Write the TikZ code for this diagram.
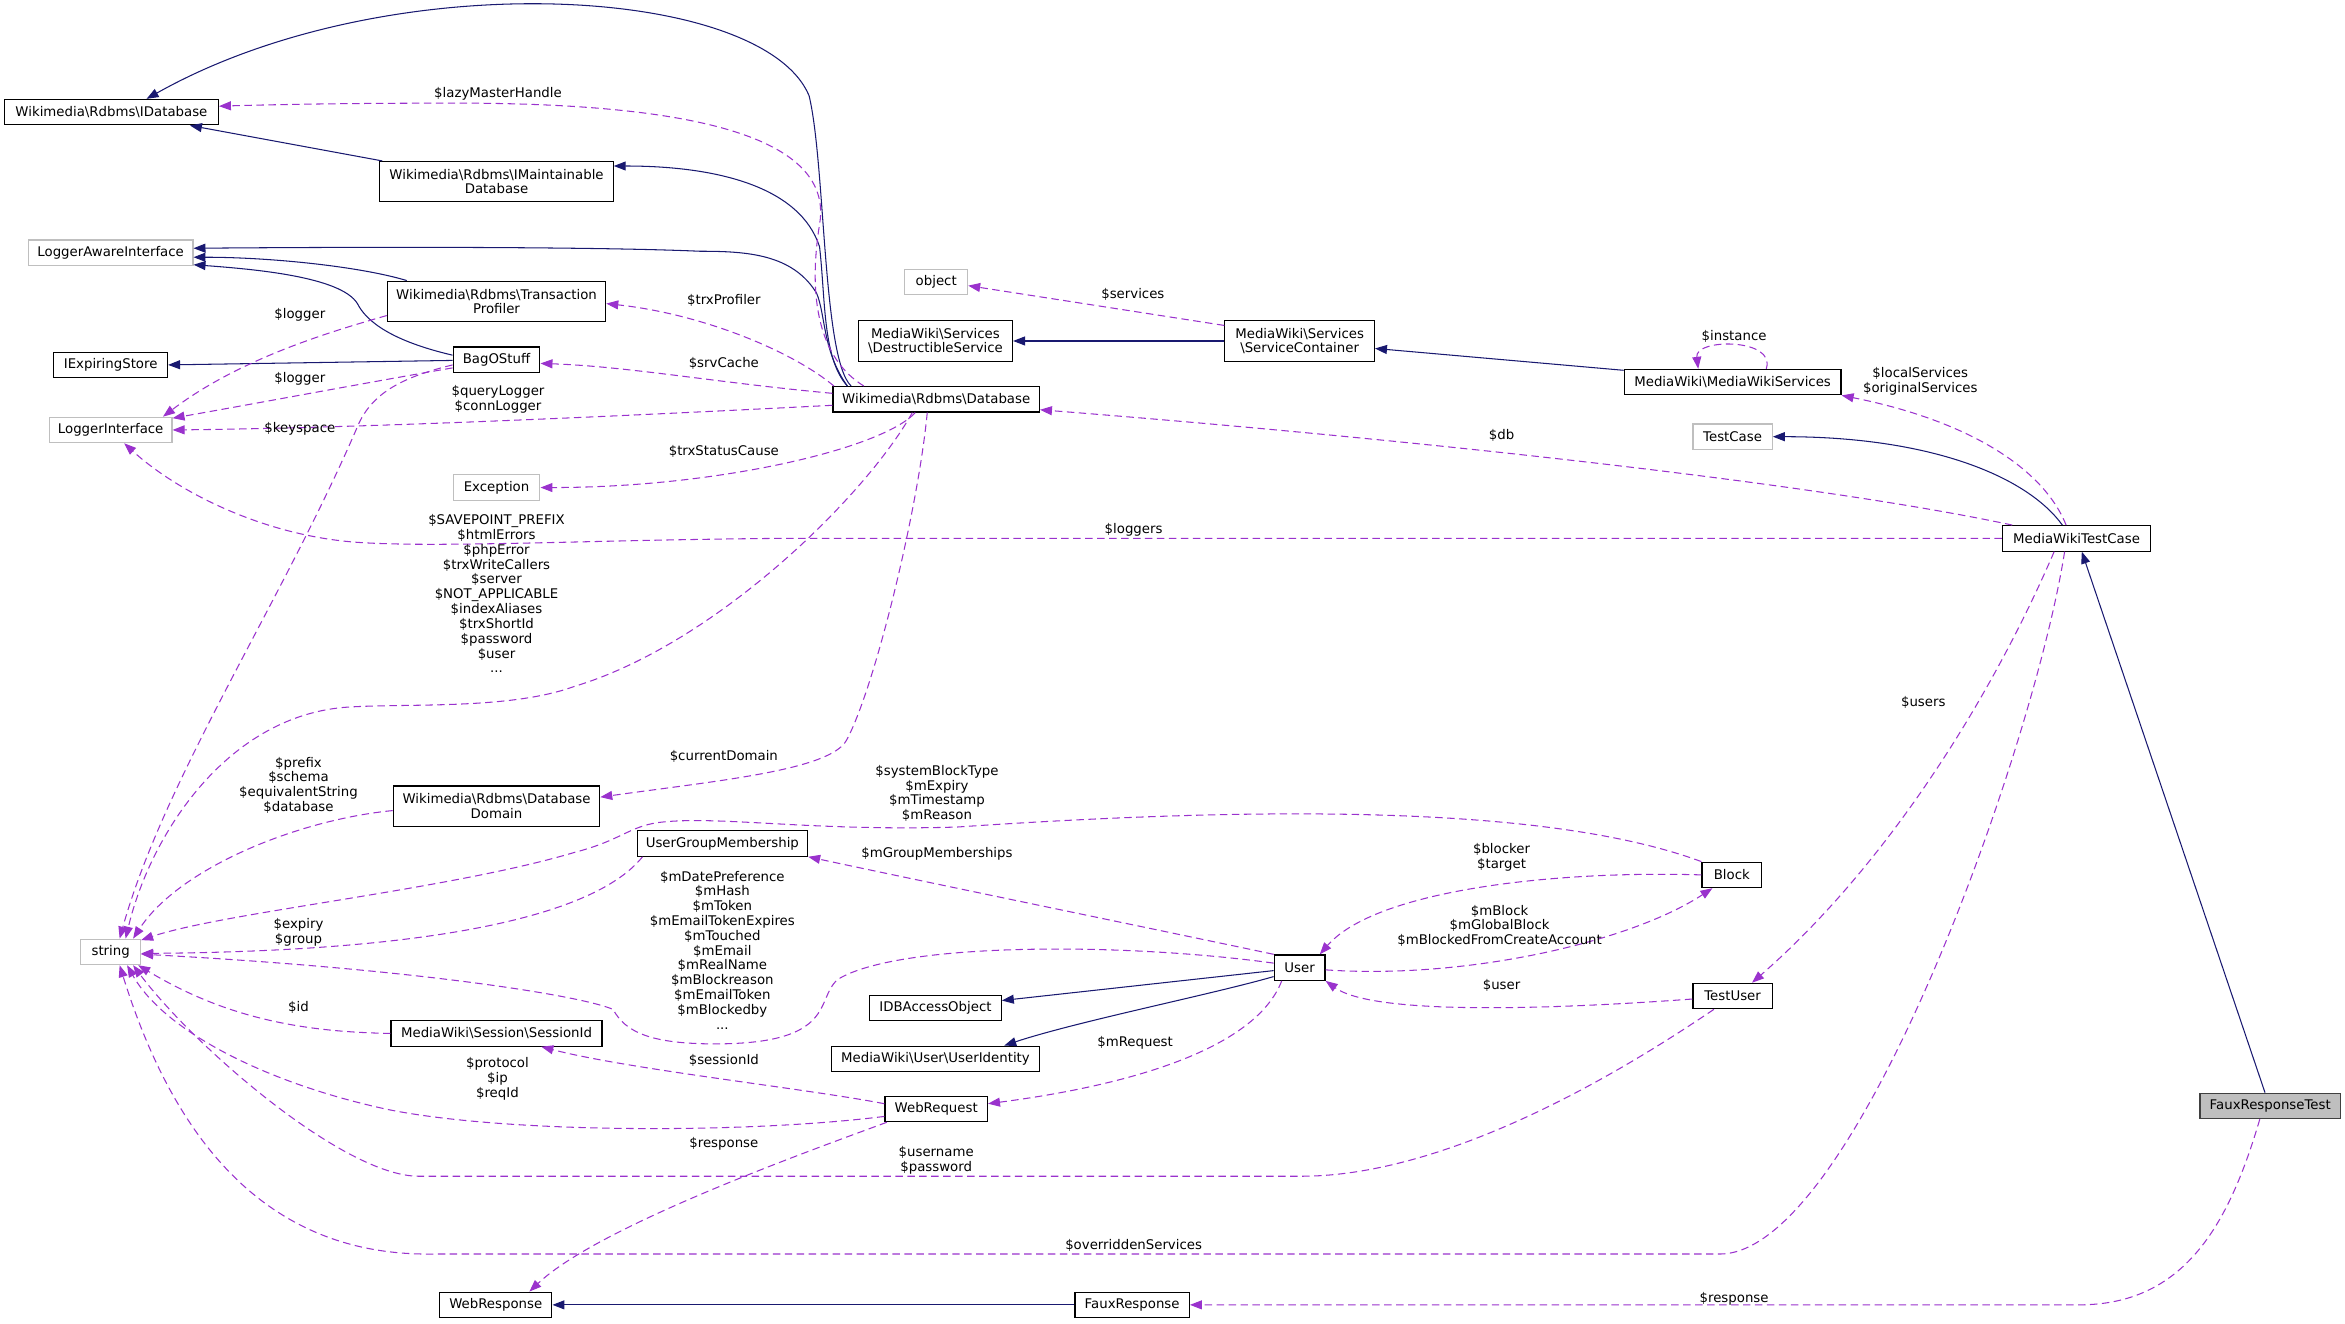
\documentclass[tikz,border=0pt]{standalone}
\usepackage{fontspec}
\setmainfont{DejaVu Sans}
\usepackage{xcolor}
\usetikzlibrary{arrows.meta}
\newcommand{\bsl}{\textbackslash}
\definecolor{doxblue}{HTML}{191970}
\definecolor{doxpurple}{HTML}{9A32CD}
\definecolor{doxgray}{HTML}{BFBFBF}
\tikzset{
  cls/.style={rectangle, draw=black, line width=0.8pt, fill=white, inner sep=0pt, minimum height=17pt, align=center, font=\fontsize{8.9}{9.6}\selectfont},
  extcls/.style={cls, draw=doxgray},
  curcls/.style={cls, fill=doxgray, draw=black!75},
  inherit/.style={-{Triangle[length=8pt,width=6pt]}, color=doxblue, line width=0.7pt},
  usage/.style={-{Triangle[length=8pt,width=6pt]}, color=doxpurple, line width=0.7pt, dash pattern=on 5pt off 3pt},
  lbl/.style={inner sep=0pt, align=center, font=\fontsize{8.9}{9.9}\selectfont},
}

\begin{document}
\begin{tikzpicture}[x=1pt, y=-1pt]
  \useasboundingbox (0,0) rectangle (1568,885);

  % Classes, column by column
  \node[cls, minimum width=143pt] (idb) at (74.5,75) {Wikimedia\bsl Rdbms\bsl IDatabase};
  \node[extcls, minimum width=110pt] (lai) at (74,169) {LoggerAwareInterface};
  \node[cls, minimum width=76pt] (iexp) at (74,244) {IExpiringStore};
  \node[extcls, minimum width=82pt] (logif) at (74,287.5) {LoggerInterface};
  \node[extcls, minimum width=40pt] (str) at (74,636.5) {string};

  \node[cls, minimum width=156pt, minimum height=27pt] (imaint) at (332,121.5) {Wikimedia\bsl Rdbms\bsl IMaintainable\\Database};
  \node[cls, minimum width=146pt, minimum height=27pt] (trxprof) at (332,201.5) {Wikimedia\bsl Rdbms\bsl Transaction\\Profiler};
  \node[cls, minimum width=58pt] (bag) at (332,240.5) {BagOStuff};
  \node[extcls, minimum width=58pt] (exc) at (332,326) {Exception};
  \node[cls, minimum width=138pt, minimum height=27pt] (dbdom) at (332,539) {Wikimedia\bsl Rdbms\bsl Database\\Domain};
  \node[cls, minimum width=141pt] (sessid) at (332,691) {MediaWiki\bsl Session\bsl SessionId};
  \node[cls, minimum width=75pt] (wresp) at (331.5,872.5) {WebResponse};
  \node[cls, minimum width=114pt] (ugm) at (483,564) {UserGroupMembership};

  \node[extcls, minimum width=42pt] (object) at (626,188.5) {object};
  \node[cls, minimum width=103pt, minimum height=27pt] (destr) at (625.5,228) {MediaWiki\bsl Services\\\bsl DestructibleService};
  \node[cls, minimum width=138pt] (db) at (626,267) {Wikimedia\bsl Rdbms\bsl Database};
  \node[cls, minimum width=88pt] (idbao) at (625.5,674) {IDBAccessObject};
  \node[cls, minimum width=139pt] (uident) at (625.5,708) {MediaWiki\bsl User\bsl UserIdentity};
  \node[cls, minimum width=68.5pt] (wreq) at (626,741.5) {WebRequest};
  \node[cls, minimum width=76.5pt] (fresp) at (757,872.5) {FauxResponse};

  \node[cls, minimum width=100pt, minimum height=27pt] (svc) at (869,228) {MediaWiki\bsl Services\\\bsl ServiceContainer};
  \node[cls, minimum width=34pt] (user) at (869,647) {User};

  \node[cls, minimum width=145pt] (mws) at (1158.5,255.5) {MediaWiki\bsl MediaWikiServices};
  \node[extcls, minimum width=53pt] (testcase) at (1158.5,292) {TestCase};
  \node[cls, minimum width=40pt] (block) at (1158,585) {Block};
  \node[cls, minimum width=53pt] (tuser) at (1158.5,666) {TestUser};

  \node[cls, minimum width=99pt] (mwtc) at (1388.5,360) {MediaWikiTestCase};
  \node[curcls, minimum width=94pt] (frtest) at (1518,739.5) {FauxResponseTest};

  % Inheritance
  \draw[inherit] ([xshift=12.5pt]db.north west) .. controls (550,240) and (552,110) .. (541,64)
    .. controls (510,-10) and (260,-25) .. ([xshift=23.5pt]idb.north);
  \draw[inherit] ([xshift=2pt]imaint.north west) -- ([xshift=52.5pt]idb.south);
  \draw[inherit] ([xshift=10pt]db.north west) .. controls (550,240) and (552,200) .. (548,165)
    .. controls (535,125) and (480,111) .. ([yshift=10.5pt]imaint.east);
  \draw[inherit] ([xshift=10pt]db.north west) .. controls (550,235) and (552,210) .. (546,196)
    .. controls (530,170) and (500,168) .. (468,168) .. controls (400,165) and (250,165) .. ([yshift=3pt]lai.east);
  \draw[inherit] ([xshift=-60pt]trxprof.north) .. controls (240,178) and (180,172) .. ([yshift=-3pt]lai.east);
  \draw[inherit] ([yshift=3pt]bag.west) .. controls (262,228) and (245,215) .. (239,203)
    .. controls (228,185) and (170,180) .. ([yshift=-8pt]lai.east);
  \draw[inherit] ([yshift=-0.5pt]bag.west) -- (iexp.east);
  \draw[inherit] (svc.west) -- (destr.east);
  \draw[inherit] ([yshift=-1pt]mws.north west) -- ([yshift=-5pt]svc.east);
  \draw[inherit] ([xshift=-9.5pt]mwtc.north) .. controls (1355,318) and (1290,292) .. (testcase.east);
  \draw[inherit] ([xshift=-3.5pt]frtest.north) -- ([xshift=3.5pt]mwtc.south);
  \draw[inherit] ([yshift=-2pt]user.west) -- ([yshift=5pt]idbao.east);
  \draw[inherit] ([yshift=-6pt]user.west) .. controls (810,665) and (720,683) .. ([xshift=46pt]uident.north);
  \draw[inherit] (fresp.west) -- (wresp.east);

  % Usage: Database
  \draw[usage] ([xshift=21pt]db.north west) .. controls (548,240) and (540,200) .. (548,150)
    .. controls (560,80) and (420,68) .. (290,69) .. controls (230,69) and (180,70) .. ([yshift=4pt]idb.east);
  \draw[usage] ([xshift=1pt]db.north west) .. controls (530,235) and (470,210) .. ([yshift=-1.5pt]trxprof.east);
  \draw[usage] ([yshift=4pt]db.west) .. controls (480,256) and (420,245) .. ([yshift=-2.5pt]bag.east);
  \draw[usage] ([yshift=-4pt]db.west) .. controls (420,278) and (250,286) .. (logif.east);
  \draw[usage] ([xshift=-14pt]db.south) .. controls (590,300) and (480,326) .. (exc.east);
  \draw[usage] ([xshift=-16pt]db.south) .. controls (580,330) and (480,430) .. (384,459)
    .. controls (340,475) and (270,470) .. (230,473) .. controls (150,480) and (100,560) .. ([xshift=10pt]str.north);
  \draw[usage] ([xshift=-6pt]db.south) .. controls (614,340) and (585,460) .. (566,495)
    .. controls (555,515) and (480,522) .. ([yshift=6pt]dbdom.east);

  % Usage: loggers and caches
  \draw[usage] ([yshift=-9.5pt]trxprof.west) .. controls (220,222) and (160,240) .. ([xshift=35pt]logif.north);
  \draw[usage] ([yshift=-5.5pt]bag.west) .. controls (250,255) and (170,270) .. ([yshift=-1pt]logif.north east);
  \draw[usage] ([yshift=-3.5pt]bag.west) .. controls (270,252) and (250,262) .. (240,283)
    .. controls (190,400) and (110,520) .. ([xshift=6pt]str.north);
  \draw[usage] (dbdom.west) ++(0,3) .. controls (200,548) and (120,580) .. ([xshift=15pt]str.north);

  % Usage: services
  \draw[usage] ([yshift=-3.5pt]svc.north west) -- ([yshift=-2.5pt]object.east);
  \draw[usage] ([xshift=22.5pt]mws.north) .. controls (1188,226) and (1133,226) .. ([xshift=-23pt]mws.north);

  % Usage: MediaWikiTestCase
  \draw[usage] ([xshift=-7pt]mwtc.north) .. controls (1365,310) and (1310,280) .. (mws.south east);
  \draw[usage] ([xshift=-43pt]mwtc.north) .. controls (1200,320) and (900,290) .. ([yshift=-7pt]db.east);
  \draw[usage] (mwtc.west) -- (520,360) .. controls (400,361) and (300,366) .. (245,363)
    .. controls (180,360) and (120,330) .. ([xshift=9pt]logif.south);
  \draw[usage] ([xshift=-15pt]mwtc.south) .. controls (1330,470) and (1260,580) .. ([xshift=13pt]tuser.north);
  \draw[usage] ([xshift=-8pt]mwtc.south) .. controls (1360,500) and (1240,838.5) .. (1150,838.5) -- (290,838.5)
    .. controls (200,840) and (125,790) .. ([xshift=6pt]str.south);

  % Usage: users and requests
  \draw[usage] (block.north west) .. controls (1040,540) and (860,538) .. (640,553)
    .. controls (540,556) and (480,545) .. (440,550) .. controls (420,553) and (415,562) .. (384,570)
    .. controls (300,595) and (150,610) .. ([yshift=-1pt]str.north east);
  \draw[usage] ([xshift=4pt]ugm.south west) .. controls (400,610) and (300,636) .. ([yshift=-1pt]str.east);
  \draw[usage] (user.north west) .. controls (790,625) and (620,590) .. (ugm.south east);
  \draw[usage] ([yshift=3pt]user.west) .. controls (750,630) and (600,630) .. (560,655)
    .. controls (545,668) and (560,698) .. (478,698) .. controls (435,698) and (418,690) .. (410,675)
    .. controls (390,666) and (280,648) .. ([yshift=-1.5pt]str.east);
  \draw[usage] (sessid.west) .. controls (200,690) and (150,680) .. ([xshift=-2pt]str.south east);
  \draw[usage] ([yshift=3.5pt]wreq.west) .. controls (540,728) and (420,715) .. ([xshift=30pt]sessid.south);
  \draw[usage] ([yshift=-5pt]wreq.west) .. controls (500,758) and (340,758) .. (260,742)
    .. controls (180,725) and (110,690) .. ([xshift=11pt]str.south);
  \draw[usage] ([xshift=-33pt]wreq.south) .. controls (540,770) and (400,820) .. ([xshift=22.5pt]wresp.north);
  \draw[usage] ([xshift=-12.5pt]tuser.south) .. controls (1050,740) and (950,786.5) .. (870,786.5) -- (280,786.5)
    .. controls (230,786.5) and (130,700) .. ([xshift=15pt]str.south);
  \draw[usage] ([xshift=-12pt]user.south) .. controls (840,700) and (760,725) .. ([yshift=3.5pt]wreq.east);
  \draw[usage] (block.west) .. controls (1040,582) and (920,595) .. ([xshift=13.5pt]user.north);
  \draw[usage] ([yshift=-1.5pt]user.east) .. controls (980,655) and (1090,630) .. ([xshift=-13pt]block.south);
  \draw[usage] ([yshift=-2pt]tuser.west) .. controls (1050,674) and (920,680) .. (user.south east);
  \draw[usage] ([xshift=-7pt]frtest.south) .. controls (1490,820) and (1460,872.5) .. (1390,872.5) -- (fresp.east);

  % Member labels
  \node[lbl] (llazy) at (333,63) {\$lazyMasterHandle};
  \node[lbl] (ltrxprof) at (484,201) {\$trxProfiler};
  \node[lbl] (lsrvcache) at (484,243) {\$srvCache};
  \node[lbl] (lquery) at (333,267) {\$queryLogger\\\$connLogger};
  \node[lbl] (llogtp) at (200.5,210.5) {\$logger};
  \node[lbl] (llogbag) at (200.5,253) {\$logger};
  \node[lbl] (lkeyspace) at (200.5,286.5) {\$keyspace};
  \node[lbl] (ltrxstatus) at (484,302) {\$trxStatusCause};
  \node[lbl] (lloggers) at (758,354) {\$loggers};
  \node[lbl] (lsavepoint) at (332,397) {\$SAVEPOINT\_PREFIX\\\$htmlErrors\\\$phpError\\\$trxWriteCallers\\\$server\\\$NOT\_APPLICABLE\\\$indexAliases\\\$trxShortId\\\$password\\\$user\\...};
  \node[lbl] (ldomain) at (484,506) {\$currentDomain};
  \node[lbl] (lservices) at (757.5,197) {\$services};
  \node[lbl] (linstance) at (1159.5,225) {\$instance};
  \node[lbl] (llocal) at (1284,255) {\$localServices\\\$originalServices};
  \node[lbl] (ldb) at (1004,291) {\$db};
  \node[lbl] (lusers) at (1286,470) {\$users};
  \node[lbl] (loverridden) at (758,832.5) {\$overriddenServices};
  \node[lbl] (lprefix) at (199.6,525) {\$prefix\\\$schema\\\$equivalentString\\\$database};
  \node[lbl] (lsysblock) at (626.5,530.5) {\$systemBlockType\\\$mExpiry\\\$mTimestamp\\\$mReason};
  \node[lbl] (lexpiry) at (199.6,623.6) {\$expiry\\\$group};
  \node[lbl] (lgroups) at (626.5,571) {\$mGroupMemberships};
  \node[lbl] (ldatepref) at (483,635.3) {\$mDatePreference\\\$mHash\\\$mToken\\\$mEmailTokenExpires\\\$mTouched\\\$mEmail\\\$mRealName\\\$mBlockreason\\\$mEmailToken\\\$mBlockedby\\...};
  \node[lbl] (lid) at (199.6,673.7) {\$id};
  \node[lbl] (lsessid) at (484,709) {\$sessionId};
  \node[lbl] (lprotocol) at (332.6,721.5) {\$protocol\\\$ip\\\$reqId};
  \node[lbl] (lresp) at (484,765) {\$response};
  \node[lbl] (luname) at (626,776) {\$username\\\$password};
  \node[lbl] (lmreq) at (759,697.5) {\$mRequest};
  \node[lbl] (lblocker) at (1004,573) {\$blocker\\\$target};
  \node[lbl] (lmblock) at (1002.7,619) {\$mBlock\\\$mGlobalBlock\\\$mBlockedFromCreateAccount};
  \node[lbl] (luser) at (1004,659) {\$user};
  \node[lbl] (lfresp) at (1159.5,868.6) {\$response};
\end{tikzpicture}
\end{document}
